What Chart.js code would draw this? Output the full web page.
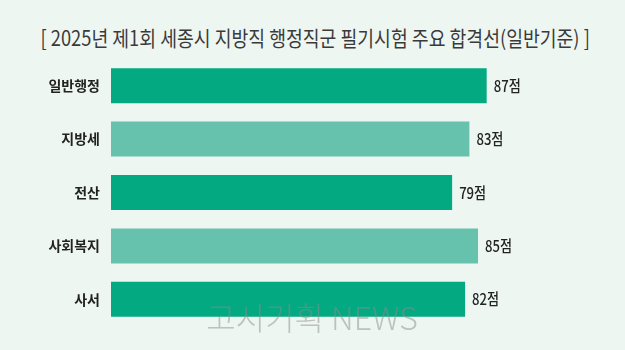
<!DOCTYPE html>
<html><head><meta charset="utf-8">
<script src="https://cdn.jsdelivr.net/npm/chart.js@4"></script>
<style>
html,body{margin:0;padding:0;background:#eef6f2;width:625px;height:350px;overflow:hidden;}
#wrap{position:relative;width:625px;height:350px;}
#title{position:absolute;left:0;top:24px;width:625px;text-align:center;font-family:"Noto Sans CJK KR",sans-serif;font-size:21px;line-height:26px;color:#3a3a3a;white-space:nowrap;transform:scaleX(0.87);transform-origin:312px 0;}
canvas{position:absolute;left:0;top:0;}
</style></head><body>
<div id="wrap">
<div id="title">[ 2025년 제1회 세종시 지방직 행정직군 필기시험 주요 합격선(일반기준) ]</div>
<canvas id="c" width="625" height="350"></canvas>
</div>
<script>
const categories = ["일반행정","지방세","전산","사회복지","사서"];
const scores = [87, 83, 79, 85, 82];
const unitLabel = "점";
const watermark = "고시기획 NEWS";
const barColors = ["#03a981","#66c2ad","#03a981","#66c2ad","#03a981"];

const valueLabels = {
  id:"valueLabels",
  afterDatasetsDraw(chart){
    const ctx = chart.ctx;
    const meta = chart.getDatasetMeta(0);
    ctx.save();
    ctx.fillStyle = "#222";
    ctx.font = "500 16px 'Noto Sans CJK KR', sans-serif";
    ctx.textBaseline = "middle";
    meta.data.forEach((bar,i)=>{
      const t = scores[i] + unitLabel;
      ctx.save();
      ctx.translate(bar.x + 7, bar.y);
      ctx.scale(0.82,1);
      ctx.fillText(t, 0, 0);
      ctx.restore();
    });
    ctx.restore();
  }
};
const wm = {
  id:"wm",
  afterDraw(chart){
    const ctx = chart.ctx;
    ctx.save();
    ctx.fillStyle = "rgba(140,140,140,0.5)";
    ctx.font = "300 32px 'Noto Sans CJK KR', sans-serif";
    ctx.textAlign = "center";
    ctx.textBaseline = "middle";
    ctx.fillText(watermark, 312, 318);
    ctx.restore();
  }
};

new Chart(document.getElementById("c"), {
  type:"bar",
  data:{labels:categories, datasets:[{data:scores, backgroundColor:barColors, borderWidth:0, barPercentage:0.655, categoryPercentage:1}]},
  options:{
    indexAxis:"y",
    responsive:false,
    animation:false,
    layout:{padding:{top:59,bottom:24,left:0,right:39}},
    plugins:{legend:{display:false},tooltip:{enabled:false},title:{display:false}},
    scales:{
      x:{display:false,min:0,max:110},
      y:{
        grid:{display:false,drawTicks:false},
        border:{display:false},
        ticks:{color:"#222",padding:11,font:{family:"'Noto Sans CJK KR', sans-serif",size:14,weight:"bold"}},
        afterFit(s){s.width=111;}
      }
    }
  },
  plugins:[valueLabels, wm]
});
</script>
</body></html>
